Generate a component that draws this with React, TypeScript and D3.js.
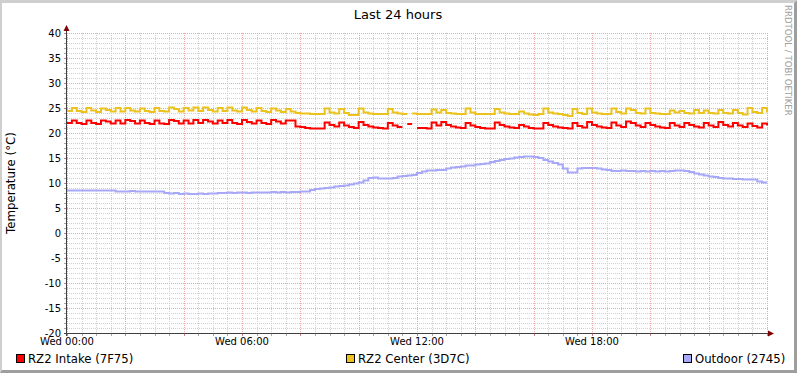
import React, { useEffect, useRef } from 'react';
import * as d3 from 'd3';

// 10 minute samples, Wed 00:00 .. Thu 00:00 (145 values), NaN = no data
const intake = [
  22.0, 22.5, 22.0, 21.8, 22.5, 22.0,
  21.8, 22.5, 22.3, 21.9, 22.5, 21.9,
  22.6, 22.4, 21.9, 22.5, 22.0, 21.8,
  22.5, 21.9, 21.8, 22.6, 22.4, 21.9,
  22.5, 21.9, 22.6, 22.0, 22.6, 22.3,
  21.9, 22.5, 22.0, 22.6, 22.0, 21.8,
  22.6, 22.2, 21.9, 22.5, 22.0, 21.8,
  22.6, 22.3, 21.9, 22.5, 22.5, 21.3,
  21.2, 21.0, 20.9, 20.9, 20.9, 22.1,
  21.6, 21.3, 22.1, 21.5, 21.2, 21.0,
  22.2, 21.6, 21.3, 21.1, 21.0, 20.9,
  22.0, 21.5, 21.2, NaN, 21.8, NaN,
  21.0, 21.0, 20.9, 22.1, 21.5, 22.2,
  21.6, 21.3, 21.1, 21.0, 22.0, 21.5,
  21.2, 21.0, 20.9, 20.9, 22.1, 21.6,
  21.3, 21.1, 21.0, 21.6, 21.3, 21.0,
  20.9, 20.9, 22.0, 21.6, 21.3, 21.1,
  21.0, 20.9, 22.0, 21.4, 21.1, 22.2,
  21.6, 21.3, 21.1, 21.0, 22.1, 21.5,
  21.2, 22.3, 22.0, 21.5, 21.2, 22.0,
  21.6, 21.3, 21.1, 21.0, 22.0, 21.5,
  21.2, 22.0, 21.6, 21.3, 21.1, 22.0,
  21.5, 21.2, 22.2, 21.6, 21.3, 22.0,
  21.5, 21.2, 21.9, 21.4, 21.1, 21.9,
  21.5,
];

const center = [
  24.4, 25.0, 24.4, 24.2, 25.0, 24.5,
  24.2, 24.9, 24.6, 24.3, 25.0, 24.3,
  25.0, 24.5, 24.3, 24.9, 24.4, 24.2,
  25.0, 24.4, 24.3, 25.1, 24.8, 24.3,
  25.0, 24.5, 25.1, 24.4, 25.1, 24.6,
  24.3, 25.0, 24.4, 25.1, 24.5, 24.3,
  25.1, 24.6, 24.3, 25.0, 24.4, 24.2,
  24.9, 24.5, 24.2, 24.8, 24.3, 24.0,
  23.9, 23.9, 23.8, 23.8, 23.8, 24.9,
  24.1, 23.9, 24.8, 24.0, 23.6, 23.6,
  24.9, 24.1, 23.9, 23.8, 23.8, 23.8,
  24.8, 24.1, 23.9, 23.8, NaN, 23.9,
  23.8, 23.8, 23.8, 24.7, 24.1, 24.6,
  24.0, 23.9, 23.8, 23.8, 24.9, 24.1,
  23.8, 23.8, 23.8, 23.8, 24.8, 24.1,
  23.9, 23.8, 23.8, 24.3, 23.9, 23.7,
  23.6, 23.8, 24.9, 24.1, 23.9, 23.8,
  23.6, 23.4, 24.8, 24.0, 23.8, 24.9,
  24.1, 23.9, 23.8, 23.8, 24.9, 24.2,
  23.9, 24.9, 24.6, 24.0, 23.9, 24.9,
  24.0, 23.9, 23.8, 23.8, 24.5, 24.1,
  24.4, 24.0, 23.9, 24.6, 24.0, 24.5,
  24.0, 23.9, 24.6, 24.0, 23.9, 24.6,
  24.0, 23.7, 25.0, 24.2, 24.0, 25.0,
  24.1,
];

const outdoor = [
  8.5, 8.5, 8.5, 8.5, 8.5, 8.5,
  8.5, 8.5, 8.5, 8.5, 8.3, 8.3,
  8.3, 8.4, 8.3, 8.3, 8.3, 8.3,
  8.3, 8.3, 8.0, 7.9, 8.0, 7.8,
  7.9, 7.8, 7.8, 7.9, 7.8, 7.9,
  7.9, 8.0, 8.0, 8.1, 8.0, 8.1,
  8.1, 8.0, 8.1, 8.1, 8.1, 8.1,
  8.2, 8.1, 8.2, 8.1, 8.2, 8.2,
  8.3, 8.3, 8.6, 8.8, 8.9, 9.0,
  9.1, 9.3, 9.4, 9.5, 9.7, 9.9,
  10.1, 10.5, 11.0, 11.1, 10.9, 10.9,
  10.9, 11.0, 11.3, 11.4, 11.5, 11.6,
  12.0, 12.3, 12.5, 12.5, 12.6, 12.6,
  12.9, 13.1, 13.2, 13.3, 13.5, 13.5,
  13.7, 13.8, 13.9, 14.2, 14.4, 14.6,
  14.8, 14.9, 15.1, 15.2, 15.3, 15.3,
  15.2, 15.0, 14.6, 14.3, 14.0, 13.7,
  12.9, 12.1, 12.1, 12.9, 13.0, 13.0,
  13.0, 12.9, 12.7, 12.6, 12.4, 12.4,
  12.5, 12.4, 12.4, 12.3, 12.4, 12.3,
  12.4, 12.3, 12.4, 12.3, 12.4, 12.5,
  12.5, 12.4, 12.2, 11.9, 11.7, 11.5,
  11.3, 11.2, 11.0, 10.9, 10.9, 10.8,
  10.8, 10.7, 10.7, 10.7, 10.3, 10.1,
  10.1,
];

const seriesNames = ['RZ2 Intake (7F75)', 'RZ2 Center (3D7C)', 'Outdoor (2745)'];
const seriesColors = ['#FF0000', '#EBC21E', '#A8A8F8'];
const xLabels = ['Wed 00:00', 'Wed 06:00', 'Wed 12:00', 'Wed 18:00'];
const xLabelHours = [0, 6, 12, 18];
const yTicks = [-20, -15, -10, -5, 0, 5, 10, 15, 20, 25, 30, 35, 40];

const W = 797, H = 373;

function App() {
  const ref = useRef<SVGSVGElement>(null);

  useEffect(() => {
    const svg = d3.select(ref.current);
    svg.selectAll('*').remove();
    const font = 'DejaVu Sans, sans-serif';

    var left = 67, right = 767, top = 33, bottom = 333;
    var x = d3.scaleLinear().domain([0, 24]).range([left, right]);
    var y = d3.scaleLinear().domain([-20, 40]).range([bottom, top]);
    const step = 1 / 6; // hours per sample

    // background + 3d frame
    svg.append('rect').attr('width', W).attr('height', H).attr('fill', '#fff');
    svg.append('polygon')
      .attr('points', `0,0 ${W},0 ${W - 3},3 2,3 2,${H - 3} 0,${H}`)
      .attr('fill', '#CFCFCF');
    svg.append('polygon')
      .attr('points', `${W},0 ${W},${H} 0,${H} 2,${H - 3} ${W - 3},${H - 3} ${W - 3},3`)
      .attr('fill', '#9E9E9E');

    const g = svg.append('g').attr('shape-rendering', 'crispEdges');
    const px = (v: number) => Math.round(v) + 0.5;

    // minor grid
    d3.range(-20, 41, 1).filter(v => v % 5 !== 0).forEach(v => {
      g.append('line').attr('x1', left - 3).attr('x2', left).attr('y1', px(y(v))).attr('y2', px(y(v)))
        .attr('stroke', '#a8a8a8');
      g.append('line').attr('x1', left).attr('x2', right + 2).attr('y1', px(y(v))).attr('y2', px(y(v)))
        .attr('stroke', '#d0d0d0').attr('stroke-dasharray', '1,1');
    });
    d3.range(0, 24.01, 0.5).filter(h => h % 2 !== 0).forEach(h => {
      g.append('line').attr('x1', px(x(h))).attr('x2', px(x(h))).attr('y1', bottom).attr('y2', bottom + 3)
        .attr('stroke', '#a8a8a8');
      g.append('line').attr('x1', px(x(h))).attr('x2', px(x(h))).attr('y1', top).attr('y2', bottom)
        .attr('stroke', '#d0d0d0').attr('stroke-dasharray', '1,1');
    });
    // major grid
    yTicks.forEach(v => {
      g.append('line').attr('x1', left - 3).attr('x2', left).attr('y1', px(y(v))).attr('y2', px(y(v)))
        .attr('stroke', '#d08080');
      g.append('line').attr('x1', left).attr('x2', right + 2).attr('y1', px(y(v))).attr('y2', px(y(v)))
        .attr('stroke', '#eba8a8').attr('stroke-dasharray', '1,1');
    });
    d3.range(0, 24.01, 2).forEach(h => {
      g.append('line').attr('x1', px(x(h))).attr('x2', px(x(h))).attr('y1', bottom).attr('y2', bottom + 3)
        .attr('stroke', '#d08080');
      g.append('line').attr('x1', px(x(h))).attr('x2', px(x(h))).attr('y1', top).attr('y2', bottom)
        .attr('stroke', '#eba8a8').attr('stroke-dasharray', '1,1');
    });

    // series: each sample holds its value for one step (rrd style)
    [intake, center, outdoor].forEach((data, k) => {
      const pts: [number, number][] = [];
      data.forEach((v, i) => {
        const h0 = i * step, h1 = Math.min(24, (i + 1) * step);
        pts.push([h0, v], [h1, v]);
      });
      var line = d3.line<[number, number]>()
        .defined(d => !isNaN(d[1]))
        .x(d => x(d[0]))
        .y(d => y(d[1]));
      svg.append('path')
        .datum(pts)
        .attr('fill', 'none')
        .attr('stroke', seriesColors[k])
        .attr('stroke-width', 2)
        .attr('d', line);
    });

    // axes + arrows
    g.append('line').attr('x1', left - 0.5).attr('x2', left - 0.5).attr('y1', bottom + 3).attr('y2', top - 4)
      .attr('stroke', '#404040');
    g.append('line').attr('x1', left - 3).attr('x2', right + 3).attr('y1', bottom + 0.5).attr('y2', bottom + 0.5)
      .attr('stroke', '#404040');
    svg.append('polygon')
      .attr('points', `${left - 3.5},${top - 2} ${left + 2.5},${top - 2} ${left - 0.5},${top - 8}`)
      .attr('fill', '#7F0000');
    svg.append('polygon')
      .attr('points', `${right + 1},${bottom - 2.5} ${right + 1},${bottom + 3.5} ${right + 7},${bottom + 0.5}`)
      .attr('fill', '#7F0000');

    // tick labels
    svg.selectAll('.ylab').data(yTicks).enter().append('text')
      .attr('x', left - 6).attr('y', d => y(d) + 3.8)
      .attr('text-anchor', 'end').attr('font-family', font).attr('font-size', 10)
      .text(d => d);
    svg.selectAll('.xlab').data(xLabels).enter().append('text')
      .attr('x', (d, i) => x(xLabelHours[i])).attr('y', bottom + 12)
      .attr('text-anchor', 'middle').attr('font-family', font).attr('font-size', 10)
      .text(d => d);

    // title and axis label
    svg.append('text').attr('x', 398).attr('y', 18.5).attr('text-anchor', 'middle')
      .attr('font-family', font).attr('font-size', 13).text('Last 24 hours');
    svg.append('text').attr('transform', 'translate(14.5,183) rotate(-90)').attr('text-anchor', 'middle')
      .attr('font-family', font).attr('font-size', 11.8).text('Temperature (°C)');
    svg.append('text').attr('transform', 'translate(785,5) rotate(90)')
      .attr('font-family', font).attr('font-size', 8.6).attr('fill', '#a0a0a0')
      .text('RRDTOOL / TOBI OETIKER');

    // legend
    const legendX = [16, 346, 683];
    seriesNames.forEach((name, k) => {
      svg.append('rect').attr('x', legendX[k] + 0.5).attr('y', 354.5).attr('width', 8).attr('height', 8)
        .attr('fill', seriesColors[k]).attr('stroke', '#000').attr('shape-rendering', 'crispEdges');
      svg.append('text').attr('x', legendX[k] + 12).attr('y', 362.5)
        .attr('font-family', font).attr('font-size', 11.7).text(name);
    });
  }, []);

  return (
    <svg ref={ref} width={W} height={H}
      style={{ position: 'absolute', left: 0, top: 0, display: 'block' }} />
  );
}

export default App;
